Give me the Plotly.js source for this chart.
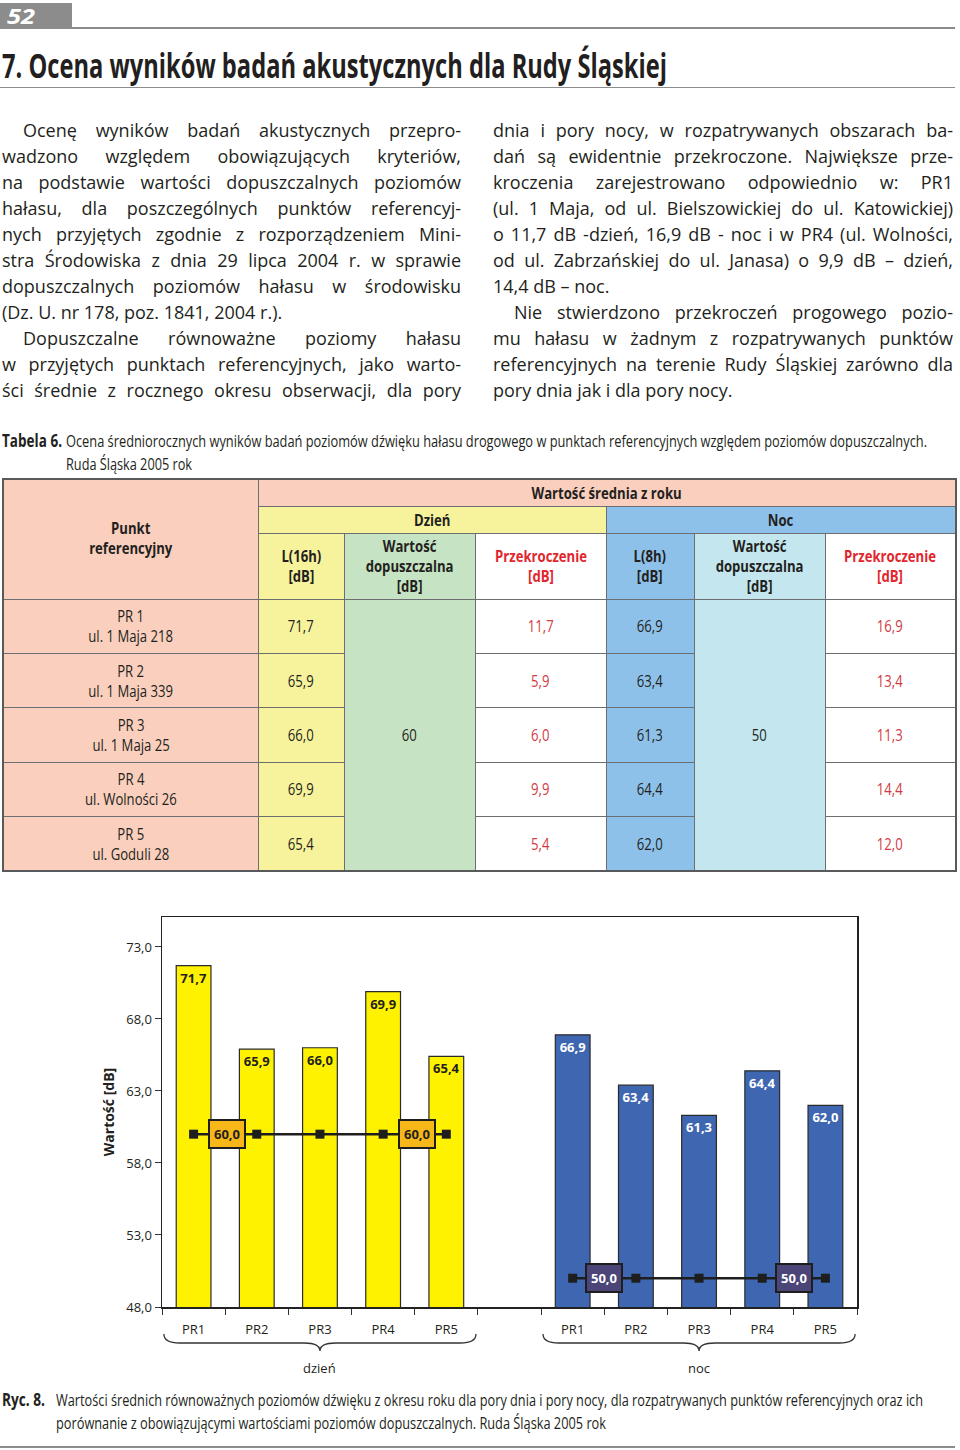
<!DOCTYPE html>
<html>
<head>
<meta charset="utf-8">
<script src="https://cdn.plot.ly/plotly-3.0.1.min.js"></script>
<style>
  body { margin: 0; width: 960px; height: 1450px; background: #fff; position: relative; overflow: hidden; color: #231f20;
         font-family: "Open Sans", sans-serif; }
  .fit { display: inline-block; white-space: nowrap; transform-origin: left center; }
  #pageno { position: absolute; left: 0; top: 3px; width: 72px; height: 25px; background: #8c8c8c; color: #fff; }
  #pageno span { position: absolute; left: 7px; top: -2px; font-style: italic; font-weight: bold; font-size: 22px; line-height: 28px; }
  #topline { position: absolute; left: 0; top: 27px; width: 955px; height: 2px; background: #8c8c8c; }
  #title { position: absolute; left: 2px; top: 43px; font-size: 34px; line-height: 44px; font-weight: bold; }
  #titleline { position: absolute; left: 0; top: 87px; width: 955px; height: 1px; background: #8c8c8c; }
  .col { position: absolute; top: 117px; font-size: 18px; line-height: 26px; }
  .col div { text-align: justify; text-align-last: justify; white-space: nowrap; }
  .col div.last { text-align-last: left; }
  .col div.ind { padding-left: 21px; }
  .cap { position: absolute; font-size: 17px; line-height: 23px; }
  #tbl { position: absolute; left: 2px; top: 478px; border-collapse: collapse; table-layout: fixed; font-size: 16px; line-height: 20px;
         border: 2px solid #58595b; }
  #tbl td { border: 1.5px solid #6d6e71; text-align: center; vertical-align: middle; padding: 0; }
  #tbl td span { display: inline-block; transform: scaleX(0.82); white-space: nowrap; }
  #tbl .b { font-weight: bold; }
  #chart { position: absolute; left: 0; top: 880px; width: 960px; height: 510px; }
  #botline { position: absolute; left: 0; top: 1446px; width: 955px; height: 2px; background: #8c8c8c; }
</style>
</head>
<body>
<div id="pageno"><span class="fit" data-w="28">52</span></div>
<div id="topline"></div>
<div id="title"><span class="fit" data-w="665">7. Ocena wyników badań akustycznych dla Rudy Śląskiej</span></div>
<div id="titleline"></div>

<div class="col" style="left:2px; width:459px;">
  <div class="ind">Ocenę wyników badań akustycznych przepro-</div>
  <div>wadzono względem obowiązujących kryteriów,</div>
  <div>na podstawie wartości dopuszczalnych poziomów</div>
  <div>hałasu, dla poszczególnych punktów referencyj-</div>
  <div>nych przyjętych zgodnie z rozporządzeniem Mini-</div>
  <div>stra Środowiska z dnia 29 lipca 2004 r. w sprawie</div>
  <div>dopuszczalnych poziomów hałasu w środowisku</div>
  <div class="last">(Dz. U. nr 178, poz. 1841, 2004 r.).</div>
  <div class="ind">Dopuszczalne równoważne poziomy hałasu</div>
  <div>w przyjętych punktach referencyjnych, jako warto-</div>
  <div>ści średnie z rocznego okresu obserwacji, dla pory</div>
</div>
<div class="col" style="left:493px; width:460px;">
  <div>dnia i pory nocy, w rozpatrywanych obszarach ba-</div>
  <div>dań są ewidentnie przekroczone. Największe prze-</div>
  <div>kroczenia zarejestrowano odpowiednio w: PR1</div>
  <div>(ul. 1 Maja, od ul. Bielszowickiej do ul. Katowickiej)</div>
  <div>o 11,7 dB -dzień, 16,9 dB - noc i w PR4 (ul. Wolności,</div>
  <div>od ul. Zabrzańskiej do ul. Janasa) o 9,9 dB – dzień,</div>
  <div class="last">14,4 dB – noc.</div>
  <div class="ind">Nie stwierdzono przekroczeń progowego pozio-</div>
  <div>mu hałasu w żadnym z rozpatrywanych punktów</div>
  <div>referencyjnych na terenie Rudy Śląskiej zarówno dla</div>
  <div class="last">pory dnia jak i dla pory nocy.</div>
</div>

<div class="cap" style="left:2px; top:429px;"><span class="fit" data-w="60"><b>Tabela 6.</b></span></div>
<div class="cap" style="left:66px; top:429px;"><span class="fit" data-w="861">Ocena średniorocznych wyników badań poziomów dźwięku hałasu drogowego w punktach referencyjnych względem poziomów dopuszczalnych.</span></div>
<div class="cap" style="left:66px; top:452px;"><span class="fit" data-w="126">Ruda Śląska 2005 rok</span></div>
<table id="tbl"></table>

<div id="chart"></div>

<div class="cap" style="left:2px; top:1388px;"><span class="fit" data-w="43"><b>Ryc. 8.</b></span></div>
<div class="cap" style="left:56px; top:1388px;"><span class="fit" data-w="867">Wartości średnich równoważnych poziomów dźwięku z okresu roku dla pory dnia i pory nocy, dla rozpatrywanych punktów referencyjnych oraz ich</span></div>
<div class="cap" style="left:56px; top:1411px;"><span class="fit" data-w="550">porównanie z obowiązującymi wartościami poziomów dopuszczalnych. Ruda Śląska 2005 rok</span></div>
<div id="botline"></div>

<script>
// dane z tabeli 6
const points = ['PR1', 'PR2', 'PR3', 'PR4', 'PR5'];
const pointNames = ['PR 1', 'PR 2', 'PR 3', 'PR 4', 'PR 5'];
const addresses = ['ul. 1 Maja 218', 'ul. 1 Maja 339', 'ul. 1 Maja 25', 'ul. Wolności 26', 'ul. Goduli 28'];
const dayLevels = [71.7, 65.9, 66.0, 69.9, 65.4];
const nightLevels = [66.9, 63.4, 61.3, 64.4, 62.0];
const dayLimit = 60;
const nightLimit = 50;
const dayExceed = [11.7, 5.9, 6.0, 9.9, 5.4];
const nightExceed = [16.9, 13.4, 11.3, 14.4, 12.0];
const yTicks = [48, 53, 58, 63, 68, 73];

const fmt = v => v.toFixed(1).replace('.', ',');

// zwężenie tekstów (brak kroju condensed)
document.querySelectorAll('.fit').forEach(el => {
    const w = el.getBoundingClientRect().width;
    el.style.transform = `scaleX(${el.dataset.w / w})`;
});

// --- tabela ---
const colWidths = [255, 86, 131, 131, 88, 131, 131];
const C = {
    salmon: '#facfbd', yellow: '#f7f39c', green: '#c6e3c3',
    blue: '#8ec1ea', cyan: '#c4e7ef', red: '#e1262d', redData: '#d23a44'
};
const s = t => `<span>${t}</span>`;
let html = '<colgroup>' + colWidths.map(w => `<col style="width:${w}px">`).join('') + '</colgroup>';
html += `<tr style="height:27px"><td rowspan="3" class="b" style="background:${C.salmon};vertical-align:top;padding-top:38px">${s('Punkt<br>referencyjny')}</td>` +
        `<td colspan="6" class="b" style="background:${C.salmon}">${s('Wartość średnia z roku')}</td></tr>`;
html += `<tr style="height:27px"><td colspan="3" class="b" style="background:${C.yellow}">${s('Dzień')}</td>` +
        `<td colspan="3" class="b" style="background:${C.blue}">${s('Noc')}</td></tr>`;
html += `<tr style="height:66px">` +
        `<td class="b" style="background:${C.yellow}">${s('L(16h)<br>[dB]')}</td>` +
        `<td class="b" style="background:${C.green}">${s('Wartość<br>dopuszczalna<br>[dB]')}</td>` +
        `<td class="b" style="color:${C.red}">${s('Przekroczenie<br>[dB]')}</td>` +
        `<td class="b" style="background:${C.blue}">${s('L(8h)<br>[dB]')}</td>` +
        `<td class="b" style="background:${C.cyan}">${s('Wartość<br>dopuszczalna<br>[dB]')}</td>` +
        `<td class="b" style="color:${C.red}">${s('Przekroczenie<br>[dB]')}</td></tr>`;
points.forEach((p, i) => {
    html += `<tr style="height:54.4px">` +
        `<td style="background:${C.salmon}">${s(pointNames[i] + '<br>' + addresses[i])}</td>` +
        `<td style="background:${C.yellow}">${s(fmt(dayLevels[i]))}</td>` +
        (i === 0 ? `<td rowspan="5" style="background:${C.green}">${s(dayLimit)}</td>` : '') +
        `<td style="color:${C.redData}">${s(fmt(dayExceed[i]))}</td>` +
        `<td style="background:${C.blue}">${s(fmt(nightLevels[i]))}</td>` +
        (i === 0 ? `<td rowspan="5" style="background:${C.cyan}">${s(nightLimit)}</td>` : '') +
        `<td style="color:${C.redData}">${s(fmt(nightExceed[i]))}</td></tr>`;
});
document.getElementById('tbl').innerHTML = html;

// --- wykres ---
const dayX = points.map((_, i) => i);
const nightX = points.map((_, i) => i + 6);
const allX = dayX.concat(nightX);
const bounds = [...new Set(allX.flatMap(x => [x - 0.5, x + 0.5]))];

const barLine = { color: '#2a2a2a', width: 1.2 };

const dayBars = {
    x: dayX, y: dayLevels, type: 'bar', width: 0.55,
    marker: { color: '#fff200', line: barLine },
    texttemplate: '%{y:.1f}', textposition: 'inside', insidetextanchor: 'end', constraintext: 'none',
    textfont: { family: 'Open Sans', size: 13, weight: 'bold', color: '#231f20' },
    hoverinfo: 'skip'
};
const nightBars = {
    x: nightX, y: nightLevels, type: 'bar', width: 0.55,
    marker: { color: '#3f67b1', line: barLine },
    texttemplate: '%{y:.1f}', textposition: 'inside', insidetextanchor: 'end', constraintext: 'none',
    textfont: { family: 'Open Sans', size: 13, weight: 'bold', color: '#ffffff' },
    hoverinfo: 'skip'
};
const limitStyle = {
    type: 'scatter', mode: 'lines+markers',
    line: { color: '#1e1e1e', width: 2.5 },
    marker: { symbol: 'square', size: 9, color: '#1e1e1e' },
    hoverinfo: 'skip'
};
const dayLimitLine = Object.assign({ x: dayX, y: dayX.map(() => dayLimit) }, limitStyle);
const nightLimitLine = Object.assign({ x: nightX, y: nightX.map(() => nightLimit) }, limitStyle);

const limitBox = (x, y, bg, col) => ({
    x: x, y: y, xref: 'x', yref: 'y', text: '<b>' + fmt(y) + '</b>', showarrow: false,
    bgcolor: bg, bordercolor: '#1e1e1e', borderwidth: 2, borderpad: 4,
    font: { family: 'Open Sans', size: 13, color: col }
});

// klamry pod grupami
const plotH = 390;
const py = px => -px / plotH; // piksele poniżej osi -> papier
function brace(x0, x1) {
    const m = (x0 + x1) / 2, yT = py(27), yM = py(36), yP = py(44), d = 0.25;
    return {
        type: 'path', xref: 'x', yref: 'paper', line: { color: '#333', width: 1.3 },
        path: `M ${x0},${yT} Q ${x0},${yM} ${x0 + d},${yM} L ${m - d},${yM} Q ${m},${yM} ${m},${yP} ` +
              `Q ${m},${yM} ${m + d},${yM} L ${x1 - d},${yM} Q ${x1},${yM} ${x1},${yT}`
    };
}

const layout = {
    width: 960, height: 510,
    margin: { l: 162, r: 103, t: 37, b: 83 },
    paper_bgcolor: 'rgba(0,0,0,0)', plot_bgcolor: '#ffffff',
    separators: ', ',
    showlegend: false,
    barmode: 'overlay',
    font: { family: 'Open Sans', color: '#231f20' },
    xaxis: {
        range: [-0.5, 10.5], tickmode: 'array', tickvals: allX, ticktext: points.concat(points),
        ticks: '', ticklabelstandoff: 10, tickfont: { size: 13 },
        minor: { tickmode: 'array', tickvals: bounds, ticks: 'outside', ticklen: 6, tickcolor: '#333', tickwidth: 1 },
        showline: true, linecolor: '#222', linewidth: 1.5, mirror: true,
        showgrid: false, zeroline: false, fixedrange: true
    },
    yaxis: {
        range: [48, 75.08], tickmode: 'array', tickvals: yTicks, tickformat: '.1f',
        ticks: 'outside', ticklen: 6, tickcolor: '#333', tickfont: { size: 13 },
        showline: true, linecolor: '#222', linewidth: 1.5, mirror: true,
        showgrid: false, zeroline: false, fixedrange: true,
        title: { text: '<b>Wartość [dB]</b>', font: { size: 14 }, standoff: 8 }
    },
    shapes: [brace(-0.47, 4.47), brace(5.53, 10.47)],
    annotations: [
        limitBox(0.53, dayLimit, '#f7b718', '#231f20'),
        limitBox(3.53, dayLimit, '#f7b718', '#231f20'),
        limitBox(6.5, nightLimit, '#4b4578', '#ffffff'),
        limitBox(9.5, nightLimit, '#4b4578', '#ffffff'),
        { x: 2, y: py(61), xref: 'x', yref: 'paper', yanchor: 'middle', text: 'dzień', showarrow: false, font: { size: 13 } },
        { x: 8, y: py(61), xref: 'x', yref: 'paper', yanchor: 'middle', text: 'noc', showarrow: false, font: { size: 13 } }
    ]
};

Plotly.newPlot('chart', [dayBars, nightBars, dayLimitLine, nightLimitLine], layout, { staticPlot: true });
</script>
</body>
</html>
